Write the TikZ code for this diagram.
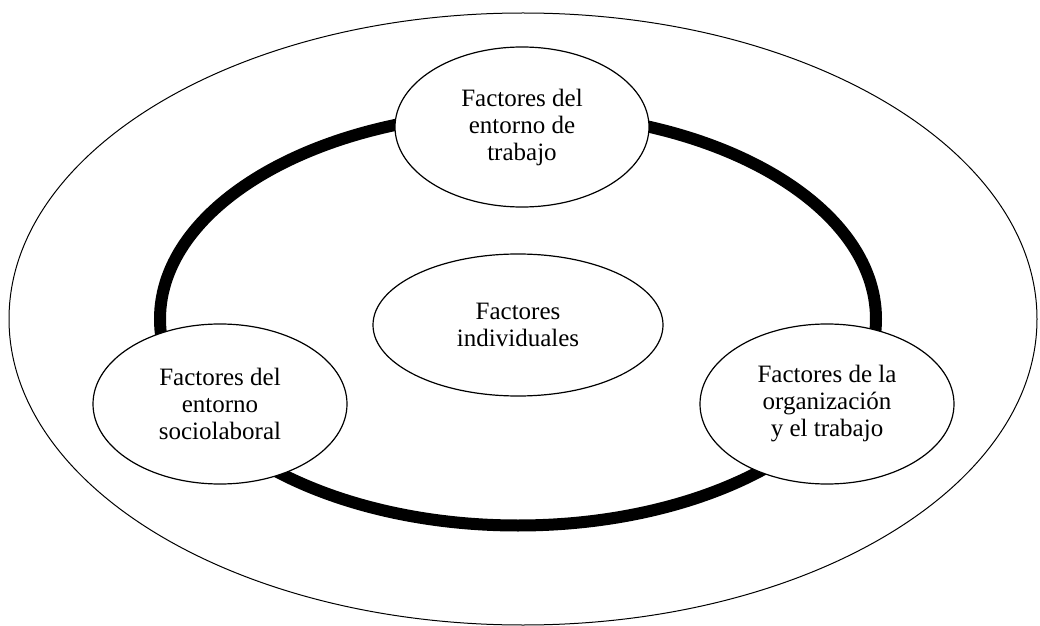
\documentclass[tikz,border=0pt]{standalone}
\usepackage{fontspec}
\setmainfont{Liberation Serif}
\usetikzlibrary{shapes.geometric}

\begin{document}
\begin{tikzpicture}[
		x=0.5pt, y=-0.5pt,
		every node/.style={
				font=\fontsize{12.5}{13.5}\selectfont,
			},
		factor/.style={draw, ellipse, fill=white, line width=0.6pt, align=center,
				inner sep=0pt, minimum width=127pt, minimum height=80pt},
	]
	\useasboundingbox (0,0) rectangle (1040,626);
	% outer ring and thick ring
	\draw [line width=0.5pt] (523,319) ellipse [x radius=257pt, y radius=153pt];
	\draw [line width=6pt] (518,319) ellipse [x radius=179pt, y radius=103.25pt];
	% factors
	\node[factor] (entorno) at (522,127) {Factores del\\entorno de\\trabajo};
	\node[factor, minimum width=145pt, minimum height=71pt] (individuales) at (518,325) {Factores\\individuales};
	\node[factor] (sociolaboral) at (220,404) {Factores del\\entorno\\sociolaboral};
	\node[factor] (organizacion) at (827,404) {Factores de la\\organización\\y el trabajo};
\end{tikzpicture}
\end{document}
